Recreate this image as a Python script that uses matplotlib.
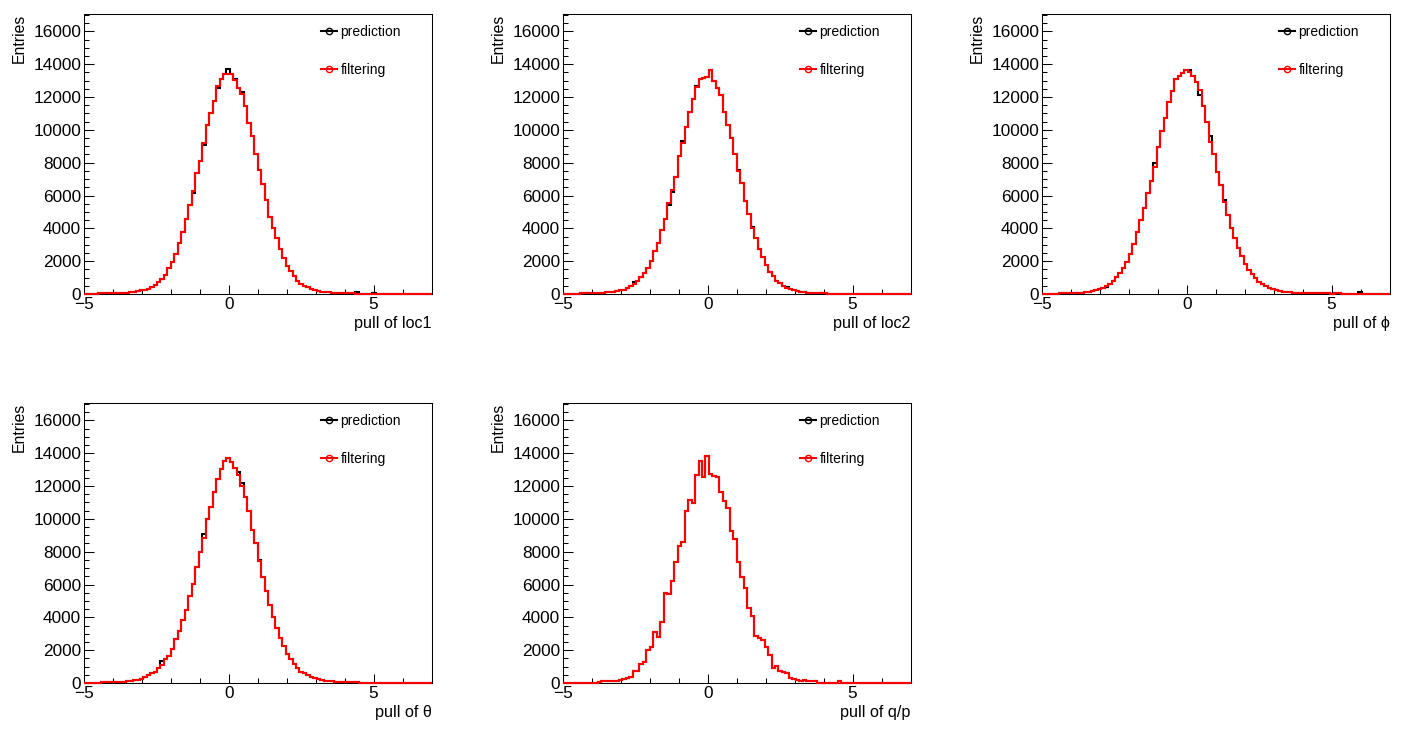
#!/usr/bin/env python3
"""Pull distributions (prediction vs filtering) for the five track parameters."""
import numpy as np
import matplotlib

matplotlib.use("Agg")
import matplotlib.pyplot as plt
from matplotlib.lines import Line2D
from matplotlib.ticker import MultipleLocator

plt.rcParams["font.family"] = ["Liberation Sans", "DejaVu Sans"]

# 100 bins from -5 to 7
X_MIN, X_MAX, N_BINS = -5.0, 7.0, 100

loc1_filt = [
    0, 0, 10, 30, 40, 40, 50, 50, 60, 60,
    70, 80, 90, 100, 140, 180, 220, 270, 330, 420,
    550, 710, 910, 1160, 1560, 1970, 2460, 3130, 3800, 4570,
    5420, 6270, 7350, 8100, 9180, 10290, 11040, 11750, 12690, 13090,
    13380, 13380, 13380, 13030, 12530, 12160, 11470, 10390, 9620, 8530,
    7550, 6720, 5730, 4710, 4000, 3430, 2740, 2210, 1730, 1420,
    1100, 810, 610, 510, 410, 310, 220, 160, 130, 110,
    100, 90, 80, 80, 70, 60, 50, 40, 20, 20,
    15, 10, 10, 10, 5, 5, 5, 5, 0, 0,
    0, 0, 0, 0, 0, 0, 0, 0, 0, 0,
]
loc1_pred = [
    0, 0, 10, 30, 40, 40, 50, 50, 60, 60,
    70, 80, 90, 100, 140, 180, 220, 270, 330, 420,
    550, 710, 910, 1160, 1560, 1970, 2460, 3130, 3800, 4570,
    5420, 6150, 7350, 8100, 9050, 10290, 11040, 11750, 12560, 13090,
    13380, 13700, 13380, 13100, 12530, 12280, 11470, 10390, 9620, 8530,
    7550, 6720, 5730, 4710, 4000, 3430, 2740, 2210, 1730, 1420,
    1100, 810, 610, 510, 410, 310, 220, 160, 130, 110,
    100, 90, 80, 80, 70, 60, 50, 40, 100, 20,
    15, 10, 10, 90, 5, 5, 5, 5, 0, 0,
    0, 0, 0, 0, 0, 0, 0, 0, 0, 0,
]

loc2_filt = [
    0, 0, 0, 20, 30, 40, 40, 50, 60, 60,
    70, 80, 100, 120, 150, 180, 220, 260, 350, 490,
    630, 790, 1060, 1260, 1600, 2010, 2620, 3130, 3900, 4550,
    5560, 6330, 7150, 8430, 9180, 10190, 11100, 11880, 12630, 13090,
    13180, 13220, 13620, 12970, 12530, 12120, 11100, 10290, 9520, 8530,
    7490, 6740, 5680, 4870, 4000, 3430, 2740, 2270, 1770, 1360,
    1100, 810, 650, 510, 390, 280, 240, 180, 140, 110,
    90, 80, 70, 60, 50, 40, 30, 30, 20, 20,
    15, 10, 10, 5, 5, 5, 0, 0, 0, 0,
    0, 0, 0, 0, 0, 0, 0, 0, 0, 0,
]
loc2_pred = [
    0, 0, 0, 20, 30, 40, 40, 50, 60, 60,
    70, 80, 100, 120, 150, 180, 220, 260, 350, 490,
    710, 790, 1060, 1260, 1600, 2010, 2620, 3130, 3900, 4550,
    5420, 6230, 7150, 8430, 9320, 10190, 11100, 11880, 12690, 13090,
    13180, 13220, 13620, 12970, 12570, 12120, 11100, 10290, 9520, 8530,
    7550, 6740, 5680, 4870, 4100, 3430, 2740, 2270, 1770, 1360,
    1100, 810, 650, 510, 410, 280, 240, 180, 140, 110,
    90, 80, 70, 60, 50, 40, 30, 30, 20, 20,
    15, 10, 10, 5, 5, 5, 0, 0, 0, 0,
    0, 0, 0, 0, 0, 0, 0, 0, 0, 0,
]

phi_filt = [
    0, 10, 20, 30, 30, 40, 40, 50, 50, 60,
    60, 70, 100, 130, 160, 220, 280, 390, 510, 590,
    790, 1020, 1260, 1560, 1970, 2440, 3050, 3800, 4490, 5220,
    6130, 6880, 7710, 8970, 9930, 10700, 11710, 12360, 13090, 13300,
    13440, 13640, 13500, 13300, 12930, 12420, 11470, 10500, 9280, 8510,
    7450, 6640, 5620, 4810, 4040, 3390, 2780, 2310, 1810, 1460,
    1200, 950, 750, 610, 490, 390, 310, 240, 190, 150,
    120, 100, 90, 80, 70, 70, 60, 60, 60, 60,
    50, 50, 50, 30, 60, 40, 20, 10, 10, 10,
    5, 5, 0, 0, 0, 0, 0, 0, 0, 0,
]
phi_pred = [
    0, 10, 20, 30, 30, 40, 40, 50, 50, 60,
    60, 70, 100, 130, 160, 220, 280, 390, 450, 590,
    790, 1020, 1260, 1560, 1970, 2440, 3050, 3800, 4490, 5220,
    6130, 6880, 7960, 8970, 9930, 10700, 11710, 12360, 13090, 13300,
    13440, 13640, 13640, 13300, 12930, 12120, 11470, 10500, 9640, 8510,
    7450, 6640, 5730, 4810, 4040, 3390, 2780, 2310, 1810, 1460,
    1200, 950, 750, 610, 490, 390, 310, 240, 190, 150,
    120, 100, 90, 80, 70, 70, 60, 60, 60, 60,
    50, 50, 50, 30, 60, 40, 20, 10, 10, 10,
    5, 100, 0, 0, 0, 0, 0, 0, 0, 0,
]

theta_filt = [
    0, 0, 10, 20, 30, 40, 40, 50, 60, 60,
    70, 80, 100, 120, 160, 200, 260, 350, 470, 590,
    690, 890, 1120, 1460, 1670, 2070, 2680, 3190, 3840, 4470,
    5320, 6030, 7040, 7960, 8830, 9990, 10740, 11610, 12420, 13030,
    13540, 13700, 13440, 13130, 12670, 12020, 11310, 10500, 9320, 8510,
    7410, 6480, 5620, 4750, 4040, 3350, 2740, 2270, 1770, 1460,
    1160, 910, 690, 590, 490, 390, 310, 240, 190, 150,
    120, 100, 90, 80, 70, 60, 50, 40, 40, 30,
    30, 30, 20, 20, 20, 20, 15, 15, 10, 10,
    10, 10, 5, 5, 0, 0, 0, 0, 0, 0,
]
theta_pred = [
    0, 0, 10, 20, 30, 40, 40, 50, 60, 60,
    70, 80, 100, 120, 160, 200, 260, 350, 470, 590,
    690, 890, 1360, 1460, 1670, 2070, 2680, 3190, 3840, 4470,
    5320, 6030, 7040, 7960, 9070, 9990, 10740, 11610, 12420, 13030,
    13540, 13700, 13440, 13130, 12830, 12160, 11310, 10500, 9320, 8510,
    7490, 6480, 5620, 4750, 4040, 3350, 2740, 2270, 1770, 1460,
    1160, 910, 690, 590, 490, 390, 310, 240, 190, 150,
    120, 100, 90, 80, 70, 60, 50, 40, 40, 30,
    30, 30, 20, 20, 20, 20, 15, 15, 10, 10,
    10, 10, 5, 5, 0, 0, 0, 0, 0, 0,
]

qp_filt = [
    0, 0, 0, 0, 0, 0, 0, 0, 0, 20,
    90, 110, 140, 100, 100, 140, 180, 220, 280, 350,
    750, 750, 1160, 1300, 2010, 2210, 3130, 2820, 3740, 5480,
    5420, 6230, 7390, 8360, 8570, 10500, 11150, 10960, 12690, 13540,
    12530, 13820, 12730, 12630, 12570, 11650, 11100, 10660, 9280, 8770,
    7350, 6480, 5790, 4570, 4100, 2880, 2720, 2640, 2170, 1730,
    890, 1020, 750, 690, 590, 280, 220, 180, 100, 160,
    100, 100, 100, 20, 20, 20, 20, 20, 30, 100,
    30, 10, 0, 0, 0, 0, 0, 0, 0, 0,
    0, 0, 0, 0, 0, 0, 0, 0, 0, 0,
]
# prediction is hidden under filtering for q/p
qp_pred = list(qp_filt)

x_labels = ["pull of loc1", "pull of loc2", "pull of \u03d5", "pull of \u03b8", "pull of q/p"]
series = [
    (loc1_pred, loc1_filt),
    (loc2_pred, loc2_filt),
    (phi_pred, phi_filt),
    (theta_pred, theta_filt),
    (qp_pred, qp_filt),
]

W, H = 1411, 732
col_left = [84, 563, 1042]
row_top = [14, 403]
ax_w, ax_h = 347.5, 280
Y_TOP = 17060

edges = np.linspace(X_MIN, X_MAX, N_BINS + 1)

fig = plt.figure(figsize=(W / 100, H / 100), dpi=100)

for i, (xlab, (pred, filt)) in enumerate(zip(x_labels, series)):
    r, c = divmod(i, 3)
    ax = fig.add_axes([
        col_left[c] / W,
        1 - (row_top[r] + ax_h) / H,
        ax_w / W,
        ax_h / H,
    ])
    ax.stairs(pred, edges, color="black", lw=1.5, zorder=3, clip_on=False)
    ax.stairs(filt, edges, color="#ff0000", lw=1.5, zorder=4, clip_on=False)

    ax.set_xlim(X_MIN, X_MAX)
    ax.set_ylim(0, Y_TOP)
    ax.set_xticks([-5, 0, 5])
    ax.xaxis.set_minor_locator(MultipleLocator(1))
    ax.yaxis.set_major_locator(MultipleLocator(2000))
    ax.yaxis.set_minor_locator(MultipleLocator(500))
    ax.tick_params(which="both", direction="in", top=False, right=False,
                   width=0.75, labelsize=12.4, pad=2)
    ax.tick_params(axis="x", which="major", length=6.3)
    ax.tick_params(axis="x", which="minor", length=3.4)
    ax.tick_params(axis="y", which="major", length=7.2)
    ax.tick_params(axis="y", which="minor", length=3.6)
    for sp in ax.spines.values():
        sp.set_linewidth(0.75)

    ax.set_xlabel(xlab, fontsize=11.6)
    ax.xaxis.set_label_coords(1.0, -0.104)
    ax.xaxis.label.set_ha("right")
    ax.xaxis.label.set_va("center")

    ax.set_ylabel("Entries", fontsize=11.3)
    ax.yaxis.set_label_coords(-0.186, 1.0)
    ax.yaxis.label.set_ha("right")
    ax.yaxis.label.set_va("center")

    handles = [
        Line2D([], [], color="black", lw=1.5, marker="o", mfc="none", ms=4.5, mew=1),
        Line2D([], [], color="#ff0000", lw=1.5, marker="o", mfc="none", ms=4.5, mew=1),
    ]
    ax.legend(handles, ["prediction", "filtering"], loc="upper left",
              bbox_to_anchor=(0.682, 0.961), frameon=False, fontsize=10,
              handlelength=1.15, handletextpad=0.25, labelspacing=1.72,
              borderpad=0, borderaxespad=0)

fig.savefig("out.png", dpi=100)
